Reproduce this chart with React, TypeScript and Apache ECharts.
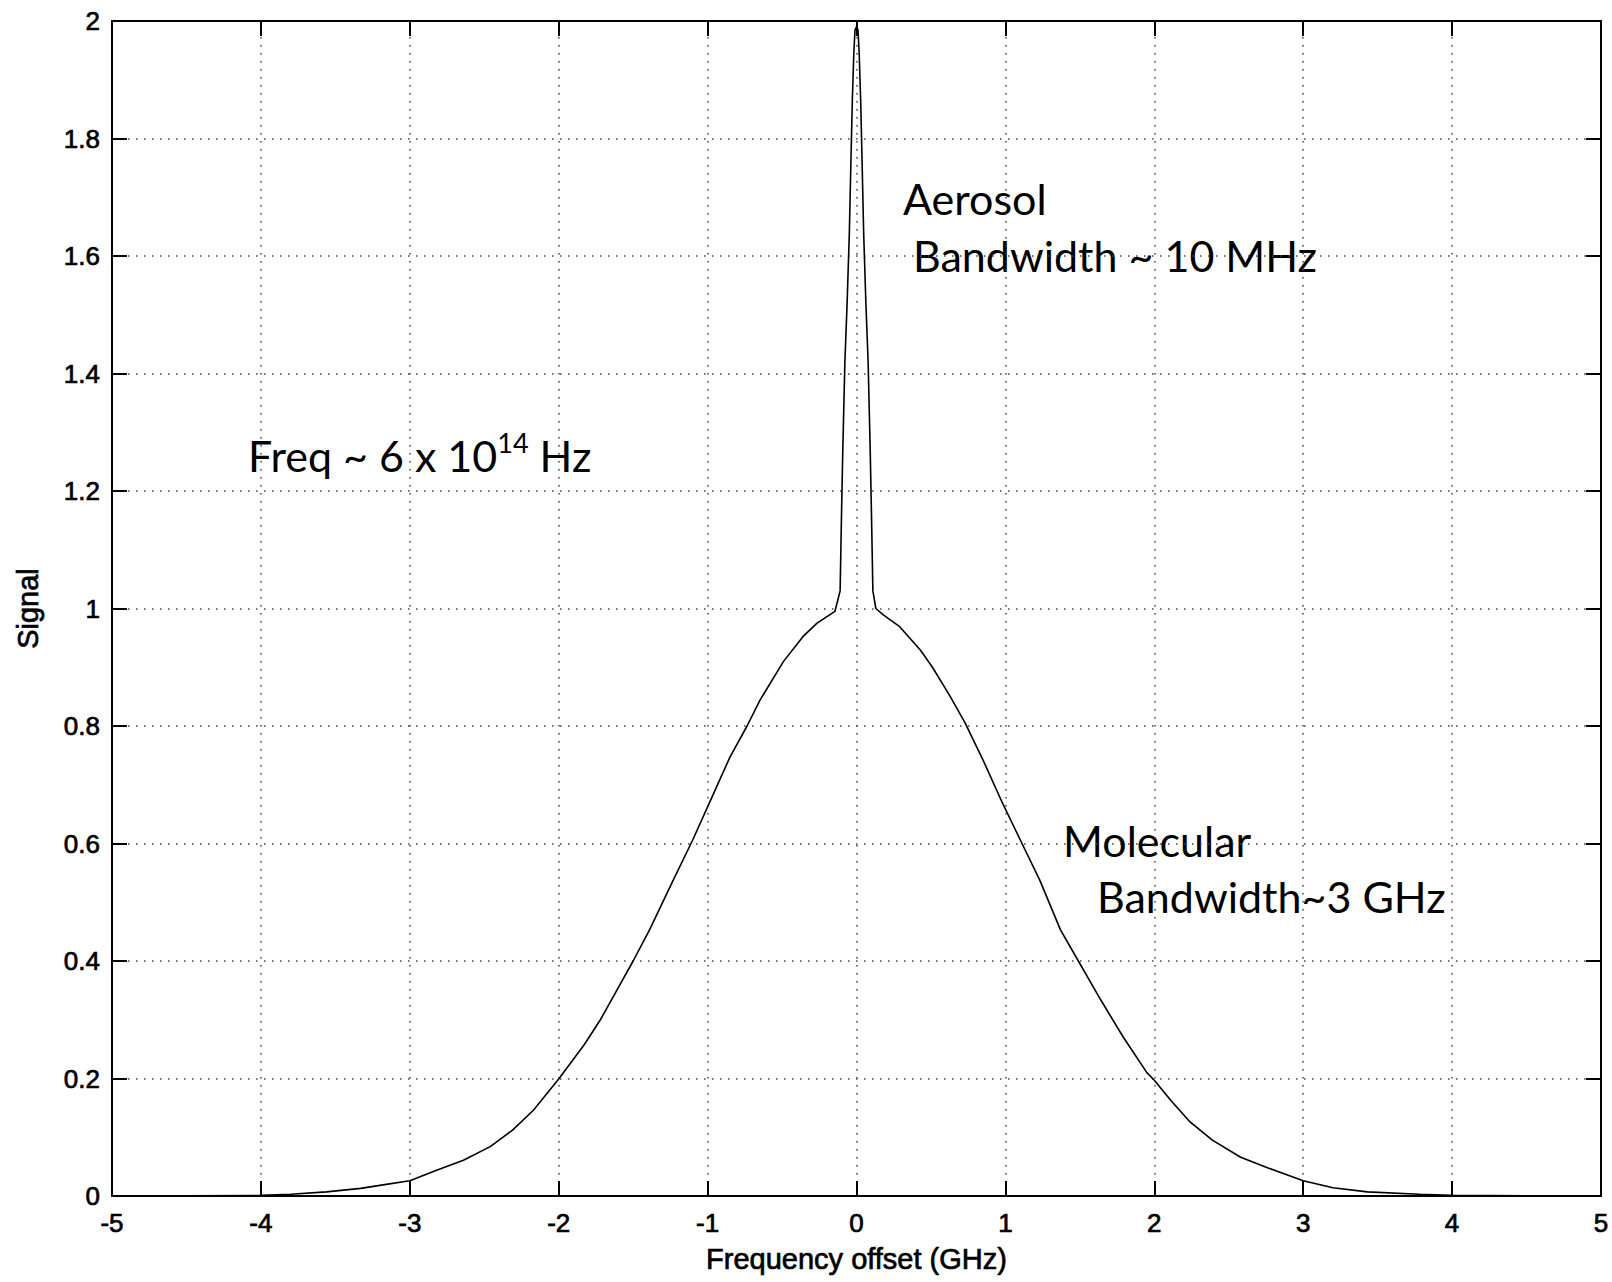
import React, { useEffect, useRef } from "react";
import * as echarts from "echarts";

// Frequency offset (GHz) and signal values
const freqGHz: number[] = [
  -5.0, -4.0, -3.8, -3.56, -3.33, -3.18, -3.0, -2.82, -2.64, -2.46, -2.31, -2.17, -2.0,
  -1.83, -1.72, -1.61, -1.5, -1.39, -1.23, -1.1, -0.96, -0.85, -0.735, -0.648, -0.49,
  -0.36, -0.265, -0.145,
  -0.11, -0.105, -0.1, -0.092, -0.078, -0.063, -0.048, -0.038, -0.028, -0.018, -0.01, 0,
  0.01, 0.018, 0.028, 0.038, 0.048, 0.063, 0.078, 0.092, 0.1, 0.105, 0.11, 0.13,
  0.18, 0.29, 0.43, 0.51, 0.63, 0.73, 0.85, 0.98, 1.1, 1.23, 1.37, 1.49, 1.64, 1.79,
  1.95, 2.0, 2.11, 2.24, 2.39, 2.58, 2.76, 3.0, 3.2, 3.43, 3.78, 4.0, 5.0,
];
const signal: number[] = [
  0, 0.001, 0.003, 0.007, 0.013, 0.019, 0.026, 0.044, 0.061, 0.084, 0.112, 0.146, 0.199,
  0.257, 0.3, 0.35, 0.4, 0.453, 0.538, 0.606, 0.685, 0.747, 0.8, 0.844, 0.91,
  0.952, 0.975, 0.995,
  1.03, 1.1, 1.168, 1.27, 1.42, 1.52, 1.64, 1.755, 1.865, 1.945, 1.985, 1.99,
  1.985, 1.945, 1.865, 1.755, 1.64, 1.52, 1.42, 1.27, 1.168, 1.1, 1.03, 1.0,
  0.989, 0.969, 0.929, 0.9, 0.85, 0.805, 0.742, 0.669, 0.606, 0.538, 0.453, 0.4, 0.334, 0.271,
  0.21, 0.197, 0.163, 0.126, 0.095, 0.066, 0.048, 0.026, 0.014, 0.007, 0.003, 0.001, 0,
];

const xTitle = "Frequency offset (GHz)";
const yTitle = "Signal";
const annotations = {
  aerosol: "Aerosol",
  aerosolBw: "Bandwidth ~ 10 MHz",
  molecular: "Molecular",
  molecularBw: "Bandwidth~3 GHz",
};

export default function App() {
  const ref = useRef<HTMLDivElement>(null);
  useEffect(() => {
    if (!ref.current) return;
    const chart = echarts.init(ref.current, undefined, { renderer: "svg" });
    const heavy = { textBorderColor: "#000", textBorderWidth: 0.7 };
    const tickFont = { fontFamily: "Liberation Sans", fontSize: 26, color: "#000", ...heavy };
    const annoFont = "Lato";
    const annoSize = 43;
    const dotted = { color: "#444", width: 1.5, type: [1.5, 6.5] as any };
    const axisLine = { show: true, onZero: false, lineStyle: { color: "#000", width: 2 } };
    const ticks = { show: true, inside: true, length: 15, lineStyle: { color: "#000", width: 2 } };
    chart.setOption({
      animation: false,
      backgroundColor: "#fff",
      grid: { left: 112, right: 11, top: 21, bottom: 86, containLabel: false },
      xAxis: [
        {
          type: "value",
          min: -5,
          max: 5,
          interval: 1,
          position: "bottom",
          axisLine,
          axisTick: ticks,
          axisLabel: { ...tickFont, margin: 14 },
          splitLine: { show: true, lineStyle: dotted },
          name: xTitle,
          nameLocation: "middle",
          nameGap: 48,
          nameTextStyle: { fontFamily: "Liberation Sans", fontSize: 29, color: "#000", ...heavy },
        },
        {
          type: "value",
          min: -5,
          max: 5,
          interval: 1,
          position: "top",
          axisLine,
          axisTick: ticks,
          axisLabel: { show: false },
          splitLine: { show: false },
        },
      ],
      yAxis: [
        {
          type: "value",
          min: 0,
          max: 2,
          interval: 0.2,
          position: "left",
          axisLine,
          axisTick: ticks,
          axisLabel: {
            ...tickFont,
            margin: 12,
            formatter: (v: number) => String(+v.toFixed(1)),
          },
          splitLine: { show: true, lineStyle: dotted },
          name: yTitle,
          nameLocation: "middle",
          nameGap: 70,
          nameRotate: 90,
          nameTextStyle: { fontFamily: "Liberation Sans", fontSize: 29, color: "#000", ...heavy },
        },
        {
          type: "value",
          min: 0,
          max: 2,
          interval: 0.2,
          position: "right",
          axisLine,
          axisTick: ticks,
          axisLabel: { show: false },
          splitLine: { show: false },
        },
      ],
      series: [
        {
          type: "line",
          xAxisIndex: 0,
          yAxisIndex: 0,
          data: freqGHz.map((x, i) => [x, signal[i]]),
          showSymbol: false,
          symbol: "none",
          lineStyle: { color: "#000", width: 1.6 },
          silent: true,
        },
      ],
      graphic: [
        {
          type: "text",
          left: 903,
          top: 177,
          style: { text: annotations.aerosol, font: `${annoSize}px ${annoFont}`, fill: "#000" },
        },
        {
          type: "text",
          left: 913,
          top: 234,
          style: { text: annotations.aerosolBw, font: `${annoSize}px ${annoFont}`, fill: "#000" },
        },
        {
          type: "text",
          left: 248,
          top: 429,
          style: {
            text: "{a|Freq ~ 6 x 10}{s|14}{a| Hz}",
            fill: "#000",
            rich: {
              a: { fontFamily: annoFont, fontSize: annoSize, lineHeight: 52, verticalAlign: "middle", fill: "#000" },
              s: { fontFamily: annoFont, fontSize: 27, lineHeight: 31, verticalAlign: "top", fill: "#000" },
            },
          },
        },
        {
          type: "text",
          left: 1063,
          top: 819,
          style: { text: annotations.molecular, font: `${annoSize}px ${annoFont}`, fill: "#000" },
        },
        {
          type: "text",
          left: 1097,
          top: 875,
          style: { text: annotations.molecularBw, font: `${annoSize}px ${annoFont}`, fill: "#000" },
        },
      ],
    });
    return () => chart.dispose();
  }, []);
  return (
    <div
      ref={ref}
      style={{ position: "absolute", left: 0, top: 0, width: 1612, height: 1282, background: "#fff" }}
    />
  );
}
